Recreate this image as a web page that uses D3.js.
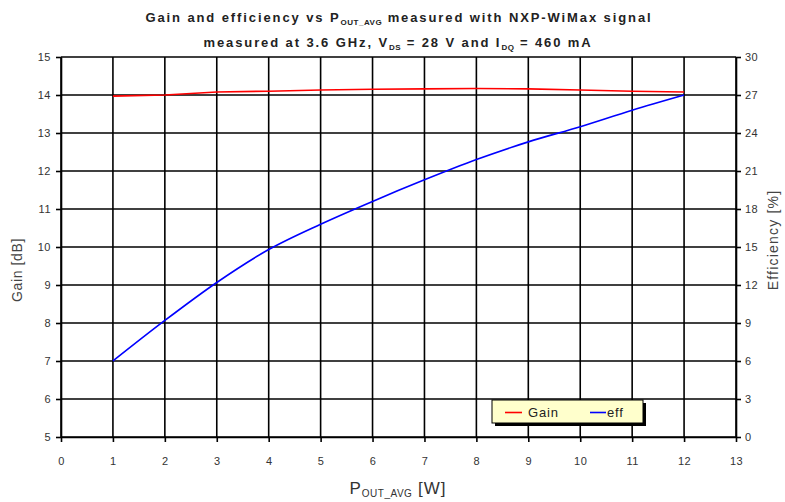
<!DOCTYPE html>
<html>
<head>
<meta charset="utf-8">
<script src="https://cdn.jsdelivr.net/npm/d3@7"></script>
<style>
  body { margin: 0; background: #fff; }
  text { font-family: "Liberation Sans", Arial, sans-serif; }
</style>
</head>
<body>
<svg id="chart" width="785" height="502"></svg>
<script>
// data
var pout = [1, 2, 3, 4, 5, 6, 7, 8, 9, 10, 11, 12];
var gain = [13.97, 14.0, 14.08, 14.1, 14.13, 14.15, 14.16, 14.17, 14.16, 14.13, 14.1, 14.08];
var eff = [6.0, 9.2, 12.2, 14.8, 16.8, 18.6, 20.3, 21.9, 23.3, 24.5, 25.8, 27.0];
var xTicks = d3.range(0, 14);
var gainTicks = d3.range(5, 16);
var effTicks = d3.range(0, 31, 3);

var svg = d3.select("#chart"),
    plotL = 61, plotR = 736, plotT = 57, plotB = 437;

var x = d3.scaleLinear().domain([0, 13]).range([plotL, plotR]);
var yGain = d3.scaleLinear().domain([5, 15]).range([plotB, plotT]);
var yEff = d3.scaleLinear().domain([0, 30]).range([plotB, plotT]);

// grid
svg.append("g").selectAll("line").data(xTicks).enter().append("line")
  .attr("x1", d => x(d)).attr("x2", d => x(d))
  .attr("y1", plotT).attr("y2", plotB)
  .style("stroke", "#000").style("stroke-width", 1.6);
svg.append("g").selectAll("line").data(gainTicks).enter().append("line")
  .attr("x1", plotL).attr("x2", plotR)
  .attr("y1", d => yGain(d)).attr("y2", d => yGain(d))
  .style("stroke", "#000").style("stroke-width", 1.6);

// axes
function styleAxis(g) {
  g.select(".domain").style("stroke", "#000").style("stroke-width", 1.6);
  g.selectAll(".tick line").style("stroke", "#000").style("stroke-width", 1.6);
  g.selectAll(".tick text").style("font-size", "11px").style("fill", "#333")
    .style("letter-spacing", "0.5px")
    .style("font-family", "Liberation Sans, Arial, sans-serif");
}
svg.append("g").attr("transform", "translate(0," + plotB + ")")
  .call(d3.axisBottom(x).tickValues(xTicks).tickSize(5).tickPadding(15).tickSizeOuter(0))
  .call(styleAxis);
svg.append("g").attr("transform", "translate(" + plotL + ",0)")
  .call(d3.axisLeft(yGain).tickValues(gainTicks).tickSize(5).tickPadding(5).tickSizeOuter(0))
  .call(styleAxis);
svg.append("g").attr("transform", "translate(" + plotR + ",0)")
  .call(d3.axisRight(yEff).tickValues(effTicks).tickSize(5).tickPadding(4).tickSizeOuter(0))
  .call(styleAxis);

// lines
var gainLine = d3.line().x((d, i) => x(pout[i])).y(d => yGain(d));
var effLine = d3.line().x((d, i) => x(pout[i])).y(d => yEff(d)).curve(d3.curveMonotoneX);
svg.append("path").datum(gain).attr("d", gainLine)
  .style("fill", "none").style("stroke", "#ff0000").style("stroke-width", 1.6);
svg.append("path").datum(eff).attr("d", effLine)
  .style("fill", "none").style("stroke", "#0000ff").style("stroke-width", 1.6);

// legend
var lg = svg.append("g").attr("transform", "translate(492,400)");
lg.append("rect").attr("x", 3).attr("y", 3).attr("width", 151).attr("height", 23).style("fill", "#000");
lg.append("rect").attr("width", 151).attr("height", 23)
  .style("fill", "#ffffcc").style("stroke", "#000").style("stroke-width", 1);
lg.append("line").attr("x1", 13).attr("x2", 30).attr("y1", 12.5).attr("y2", 12.5)
  .style("stroke", "#ff0000").style("stroke-width", 1.6);
lg.append("text").attr("x", 36).attr("y", 17).style("font-size", "13px").style("letter-spacing", "0.8px")
  .style("fill", "#222").text("Gain");
lg.append("line").attr("x1", 98).attr("x2", 114).attr("y1", 12.5).attr("y2", 12.5)
  .style("stroke", "#0000ff").style("stroke-width", 1.6);
lg.append("text").attr("x", 115).attr("y", 17).style("font-size", "13px").style("letter-spacing", "0.8px")
  .style("fill", "#222").text("eff");

// titles
var t1 = svg.append("text").attr("x", 399).attr("y", 22).attr("text-anchor", "middle")
  .style("font-size", "13px").style("font-weight", "bold").style("letter-spacing", "1.9px").style("fill", "#222");
t1.append("tspan").text("Gain and efficiency vs P");
t1.append("tspan").attr("dy", 3).style("font-size", "8px").style("letter-spacing", "0.5px").text("OUT_AVG");
t1.append("tspan").attr("dy", -3).text(" measured with NXP-WiMax signal");

var t2 = svg.append("text").attr("x", 398).attr("y", 47).attr("text-anchor", "middle")
  .style("font-size", "13px").style("font-weight", "bold").style("letter-spacing", "1.9px").style("fill", "#222");
t2.append("tspan").text("measured at 3.6 GHz, V");
t2.append("tspan").attr("dy", 3).style("font-size", "8px").style("letter-spacing", "0.5px").text("DS");
t2.append("tspan").attr("dy", -3).text(" = 28 V and I");
t2.append("tspan").attr("dy", 3).style("font-size", "8px").style("letter-spacing", "0.5px").text("DQ");
t2.append("tspan").attr("dy", -3).text(" = 460 mA");

var xt = svg.append("text").attr("x", 398).attr("y", 494).attr("text-anchor", "middle")
  .style("font-size", "17px").style("letter-spacing", "1px").style("fill", "#333");
xt.append("tspan").text("P");
xt.append("tspan").attr("dy", 3).style("font-size", "10px").style("letter-spacing", "0.5px").text("OUT_AVG");
xt.append("tspan").attr("dy", -3).text(" [W]");

svg.append("text").attr("transform", "translate(22,270)rotate(-90)").attr("text-anchor", "middle")
  .style("font-size", "14px").style("letter-spacing", "0.6px").style("fill", "#444").text("Gain [dB]");
svg.append("text").attr("transform", "translate(778,240)rotate(-90)").attr("text-anchor", "middle")
  .style("font-size", "14px").style("letter-spacing", "1.2px").style("fill", "#444").text("Efficiency [%]");
</script>
</body>
</html>
